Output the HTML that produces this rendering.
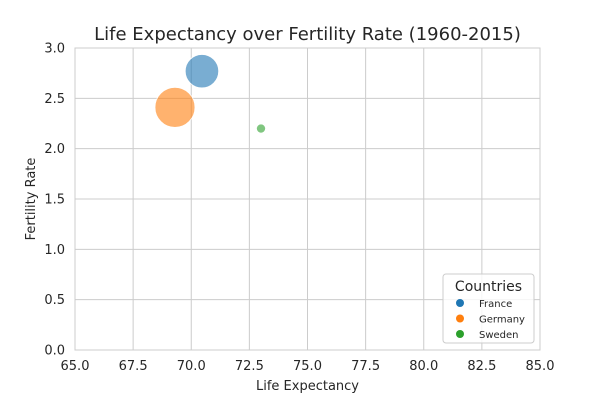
<!DOCTYPE html>
<html><head><meta charset="utf-8"><style>
body{margin:0;background:#fff;font-family:"Liberation Sans","DejaVu Sans",sans-serif;}
svg text{font-family:"DejaVu Sans","Liberation Sans",sans-serif;fill:#262626;}
</style></head><body>
<svg id="chart" width="600" height="400" xmlns="http://www.w3.org/2000/svg">
<text x="307.5" y="40" text-anchor="middle" font-size="18">Life Expectancy over Fertility Rate (1960-2015)</text>
<g id="grid"></g><g id="ticks"></g><g id="marks"></g>
<rect x="75" y="48" width="465" height="302" fill="none" stroke="#cccccc" stroke-width="1"/>
<text x="307.5" y="390" text-anchor="middle" font-size="13">Life Expectancy</text>
<text transform="translate(35,199) rotate(-90)" text-anchor="middle" font-size="13">Fertility Rate</text>
<g>
<rect x="443" y="274" width="91" height="69" rx="3" fill="#fff" fill-opacity="0.8" stroke="#cccccc"/>
<text x="488.5" y="291" text-anchor="middle" font-size="14">Countries</text>
<g id="legend-items"></g>
</g>
</svg>
<script>
const countries=["France","Germany","Sweden"];
const lifeExp=[70.46,69.3,73.0];
const fertility=[2.77,2.41,2.2];
const population=[56,80,4.2];
const xTicks=[65,67.5,70,72.5,75,77.5,80,82.5,85];
const yTicks=[0,0.5,1,1.5,2,2.5,3];
const colors=["#1f77b4","#ff7f0e","#2ca02c"];
const NS="http://www.w3.org/2000/svg";
const x=v=>75+(v-65)/20*465;
const y=v=>350-v/3*302;
const r=v=>20*Math.sqrt(v/80);
function mk(t,a,p){const e=document.createElementNS(NS,t);for(const k in a)e.setAttribute(k,a[k]);p.appendChild(e);return e;}
const grid=document.getElementById('grid'),ticks=document.getElementById('ticks'),marks=document.getElementById('marks'),leg=document.getElementById('legend-items');
xTicks.forEach(t=>{
 const l=mk('line',{x1:x(t),x2:x(t),y1:48,y2:350,stroke:'#cccccc'},grid);
 
 
 const s=mk('text',{x:x(t),y:370,'text-anchor':'middle','font-size':13},ticks);
 s.textContent=t.toFixed(1);
 
 
});
yTicks.forEach(t=>{
 const l=mk('line',{x1:75,x2:540,y1:y(t),y2:y(t),stroke:'#cccccc'},grid);
 
 
 const s=mk('text',{x:65,y:y(t)+4.5,'text-anchor':'end','font-size':13},ticks);
 s.textContent=t.toFixed(1);
 
 
});
countries.forEach((c,i)=>{
 const b=mk('circle',{cx:x(lifeExp[i]),cy:y(fertility[i]),r:r(population[i]),fill:colors[i],'fill-opacity':0.6,stroke:'#fff','stroke-width':0.8},marks);
 
 
 const d=mk('circle',{cx:460,cy:303+i*15.5,r:4,fill:colors[i]},leg);
 
 
 const t=mk('text',{x:479,y:307+i*15.5,'font-size':10},leg);
 t.textContent=c;
 
 
});
</script>
</body></html>
